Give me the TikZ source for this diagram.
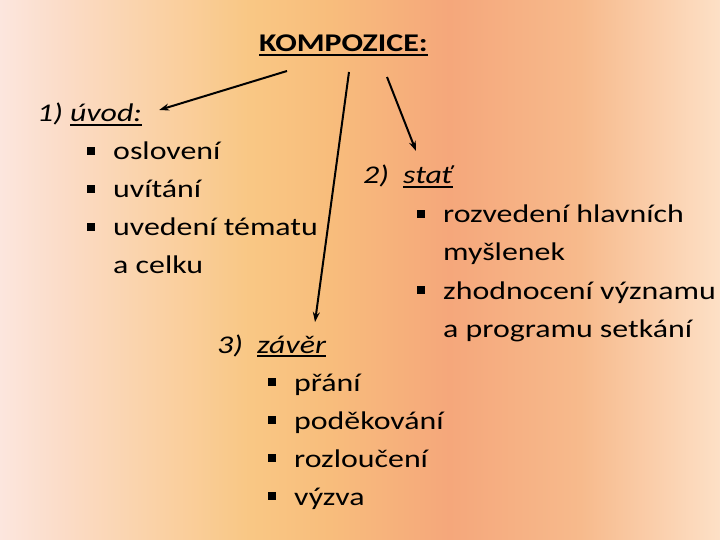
\documentclass[tikz,border=0pt]{standalone}
\usepackage{fontspec}
\setmainfont{Carlito}
\usetikzlibrary{arrows.meta}
\usetikzlibrary{positioning}
\definecolor{bgA}{HTML}{FCE6DE}
\definecolor{bgB}{HTML}{FBDCC8}
\definecolor{bgC}{HTML}{F9C784}
\definecolor{bgD}{HTML}{F8BD7C}
\definecolor{bgE}{HTML}{F5A77B}
\definecolor{bgF}{HTML}{F7BA8C}
\definecolor{bgG}{HTML}{FDE0C6}
\pgfdeclarehorizontalshading{slidebg}{100bp}{color(0bp)=(bgA); color(25bp)=(bgA);
  color(29.2bp)=(bgB); color(42.4bp)=(bgC); color(47.9bp)=(bgD);
  color(56.2bp)=(bgE); color(65.3bp)=(bgF); color(75bp)=(bgG); color(100bp)=(bgG)}
% the slide text is squeezed vertically (yscale below), so the skip is larger
\newcommand{\slidesize}{\fontsize{32}{47.5bp}\selectfont}
\newcommand{\sqbul}{\makebox[26bp][l]{\raisebox{6.3bp}{\rule{8bp}{10bp}}}}
\newcommand{\slideul}[1]{\setbox0\hbox{#1}\rlap{\rule[-4.5bp]{\wd0}{2.2bp}}\box0}
\tikzset{title/.style = {font=\slidesize\bfseries, inner sep=0pt, anchor=base west, yscale=0.8},
         heading/.style = {font=\slidesize\itshape, inner sep=0pt, anchor=base west, yscale=0.8},
         list/.style = {font=\slidesize, align=left, inner sep=0pt, anchor=base west, yscale=0.8},
         pointer/.style = {line width=2bp, -{Stealth[length=10bp,width=7bp]}}}

\begin{document}
\begin{tikzpicture}[x=1bp, y=-1bp]
      \fill [shading=slidebg] (0, 0) rectangle (720, 540);
      \useasboundingbox (0, 0) rectangle (720, 540);
      \node [title] (title) at (259, 52) {\slideul{KOMPOZICE:}};
      \node [heading] (uvod) at (37, 122) {1) \slideul{úvod:}};
      \node [heading] (stat) at (363, 184) {\makebox[40bp][l]{2)}\slideul{stať}};
      \node [heading] (zaver) at (217, 353) {\makebox[40bp][l]{3)}\slideul{závěr}};
      % lists: base anchor sits on the last line
      \node [list] (uvodlist) at (87, 274) {\sqbul oslovení\\ \sqbul uvítání\\
        \sqbul uvedení tématu\\ \hspace*{26bp}a celku};
      \node [list] (statlist) at (417, 337) {\sqbul rozvedení hlavních\\
        \hspace*{26bp}myšlenek\\ \sqbul zhodnocení významu\\ \hspace*{26bp}a programu setkání};
      \node [list] (zaverlist) at (268, 505) {\sqbul přání\\ \sqbul poděkování\\
        \sqbul rozloučení\\ \sqbul výzva};
      \coordinate (kUvod) at ([xshift=28bp, yshift=-19bp]title.base west);
      \coordinate (kZaver) at ([xshift=90bp, yshift=-20bp]title.base west);
      \coordinate (kStat) at ([xshift=128bp, yshift=-25bp]title.base west);
      \draw [pointer] (kUvod) -- ([xshift=17bp, yshift=12bp]uvod.base east);
      \draw [pointer] (kZaver) -- ([xshift=98bp, yshift=31bp]zaver.base west);
      \draw [pointer] (kStat) -- ([xshift=53bp, yshift=33bp]stat.base west);
    \end{tikzpicture}
\end{document}
